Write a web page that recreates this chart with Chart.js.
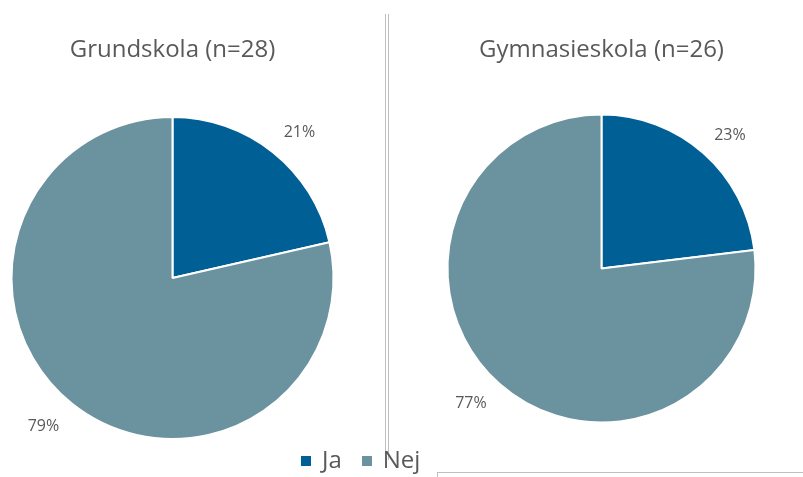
<!DOCTYPE html>
<html>
<head>
<meta charset="utf-8">
<script src="https://cdn.jsdelivr.net/npm/chart.js@4.4.1/dist/chart.umd.min.js"></script>
<style>
  html, body { margin: 0; padding: 0; background: #ffffff; overflow: hidden; }
  #wrap { position: relative; width: 803px; height: 477px; font-family: "Open Sans", "Noto Sans", sans-serif; }
  canvas { position: absolute; top: 0; }
  .title { position: absolute; top: 36px; font-size: 24px; line-height: 24px; color: #595959; white-space: nowrap; transform: translateX(-50%); }
  .vline { position: absolute; width: 1px; background: #bfbfbf; top: 14px; height: 446px; }
  #legend { position: absolute; top: 447px; left: 301px; font-size: 24px; line-height: 24px; color: #595959; white-space: nowrap; }
  #legend span.item { display: inline-block; margin-right: 20px; }
  #legend span.box { display: inline-block; width: 10px; height: 10px; margin-right: 11px; vertical-align: 2px; }
</style>
</head>
<body>
<div id="wrap">
  <canvas id="c1" width="345" height="477" style="left:0px"></canvas>
  <canvas id="c2" width="403" height="477" style="left:400px"></canvas>
  <div class="title" id="t1" style="left:172.5px"></div>
  <div class="title" id="t2" style="left:601.5px"></div>
  <div class="vline" style="left:385px"></div>
  <div class="vline" style="left:388px"></div>
  <div style="position:absolute;left:437px;top:472px;width:366px;height:1px;background:#bfbfbf"></div>
  <div style="position:absolute;left:437px;top:472px;width:1px;height:5px;background:#bfbfbf"></div>
  <div id="legend"></div>
</div>
<script>
// ---- data ----
const categories = ['Ja', 'Nej'];
const seriesColors = ['#005F94', '#6A929F'];
const grundskolaTitle = 'Grundskola (n=28)';
const grundskolaValues = [6, 22];      // 21 % / 79 %
const gymnasieskolaTitle = 'Gymnasieskola (n=26)';
const gymnasieskolaValues = [6, 20];   // 23 % / 77 %

// ---- outside percentage labels plugin ----
const outsideLabels = {
  id: 'outsideLabels',
  afterDatasetsDraw(chart, args, opts) {
    const ctx = chart.ctx;
    const meta = chart.getDatasetMeta(0);
    const data = chart.data.datasets[0].data;
    const total = data.reduce((a, b) => a + b, 0);
    ctx.save();
    ctx.font = '16px "Open Sans", "Noto Sans", sans-serif';
    ctx.fillStyle = '#595959';
    ctx.textAlign = 'center';
    ctx.textBaseline = 'middle';
    meta.data.forEach((arc, i) => {
      const p = arc.getProps(['x', 'y', 'startAngle', 'endAngle', 'outerRadius'], true);
      const mid = (p.startAngle + p.endAngle) / 2 + opts.angleShift * Math.PI / 180;
      const d = p.outerRadius * (i === 0 ? opts.distance : opts.distanceLarge);
      const x = p.x + Math.cos(mid) * d;
      const y = p.y + Math.sin(mid) * d;
      ctx.fillText(Math.round(data[i] / total * 100) + '%', x, y);
    });
    ctx.restore();
  }
};

function makePie(id, values, radius, padTop) {
  return new Chart(document.getElementById(id), {
    type: 'pie',
    data: {
      labels: categories,
      datasets: [{
        data: values,
        backgroundColor: seriesColors,
        borderColor: '#ffffff',
        borderWidth: 2
      }]
    },
    options: {
      responsive: false,
      animation: false,
      radius: radius,
      layout: { padding: { top: padTop, bottom: 0, left: 0, right: 0 } },
      plugins: {
        legend: { display: false },
        title: { display: false },
        tooltip: { enabled: false },
        outsideLabels: { distance: 1.2, distanceLarge: 1.22, angleShift: 2.5 }
      }
    },
    plugins: [outsideLabels]
  });
}

makePie('c1', grundskolaValues, 161, 79);
makePie('c2', gymnasieskolaValues, 154, 60);

document.getElementById('t1').textContent = grundskolaTitle;
document.getElementById('t2').textContent = gymnasieskolaTitle;

const legend = document.getElementById('legend');
categories.forEach((c, i) => {
  const item = document.createElement('span');
  item.className = 'item';
  const box = document.createElement('span');
  box.className = 'box';
  box.style.background = seriesColors[i];
  item.appendChild(box);
  item.appendChild(document.createTextNode(c));
  legend.appendChild(item);
});
</script>
</body>
</html>
